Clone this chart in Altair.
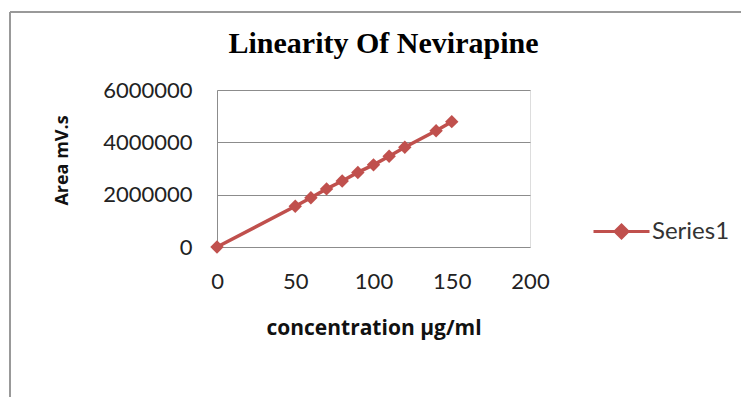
import altair as alt
import pandas as pd

conc = [0, 50, 60, 70, 80, 90, 100, 110, 120, 140, 150]
area = [0, 1560000, 1880000, 2220000, 2520000, 2850000, 3140000, 3470000, 3810000, 4440000, 4790000]
series = ["Series1"] * len(conc)
x_ticks = [0, 50, 100, 150, 200]
y_ticks = [0, 2000000, 4000000, 6000000]

df = pd.DataFrame({"conc": conc, "area": area, "series": series})

RED = "#C0504D"
GRID = "#8C8C8C"
FONT = "Lato"
TFONT = "Open Sans"

legend_path = "M-1,0L1,0M0,-0.23L0.23,0L0,0.23L-0.23,0Z"

base = alt.Chart(df).encode(
    x=alt.X("conc:Q", scale=alt.Scale(domain=[0, 200], nice=False),
            axis=alt.Axis(values=x_ticks, title="concentration µg/ml", grid=False,
                          domain=False, ticks=False, labelPadding=24, titlePadding=25,
                          labelFlush=False,
                          labelFont=FONT, labelFontSize=22, labelColor="#222",
                          titleFont=TFONT, titleFontSize=21, titleFontWeight="bold",
                          titleColor="#111")),
    y=alt.Y("area:Q", scale=alt.Scale(domain=[0, 6000000], nice=False),
            axis=alt.Axis(values=y_ticks, format="d", title="Area mV.s", grid=True,
                          gridColor=GRID, gridWidth=1, domain=True, domainColor=GRID,
                          ticks=False, labelPadding=25, titlePadding=31,
                          labelFlush=False, titleY=70,
                          labelFont=FONT, labelFontSize=22, labelColor="#222",
                          titleFont=TFONT, titleFontSize=18, titleFontWeight="bold",
                          titleColor="#111")),
    color=alt.Color("series:N", scale=alt.Scale(range=[RED]),
                    legend=alt.Legend(title=None, orient="none", legendX=375, legendY=112,
                                      symbolType=legend_path, symbolSize=3136,
                                      symbolStrokeWidth=3, symbolFillColor=RED,
                                      symbolStrokeColor=RED,
                                      labelFont=FONT, labelFontSize=24, labelColor="#333",
                                      labelOffset=1)),
)

line = base.mark_line(strokeWidth=3.5)
pts = base.mark_point(shape="diamond", filled=True, size=180, opacity=1)

frame_left = alt.Chart(df).mark_rule(color="#999999", strokeWidth=2).encode(
    x=alt.value(-207), y=alt.value(-78), y2=alt.value(320))
frame_top = alt.Chart(df).mark_rule(color="#999999", strokeWidth=2).encode(
    x=alt.value(-207), x2=alt.value(530), y=alt.value(-78))

chart = alt.layer(frame_left, frame_top, line, pts).properties(
    width=313, height=157,
    title=alt.TitleParams("Linearity Of Nevirapine", font="Liberation Serif",
                          fontSize=30, fontWeight="bold", color="#000",
                          anchor="middle", dx=10, offset=-48),
    autosize=alt.AutoSizeParams(type="none"),
    padding={"left": 217, "top": 90, "right": 211, "bottom": 150},
).configure_view(stroke=None).configure(background="white")

chart.save("out.html", embed_options={"renderer": "svg", "actions": False})
